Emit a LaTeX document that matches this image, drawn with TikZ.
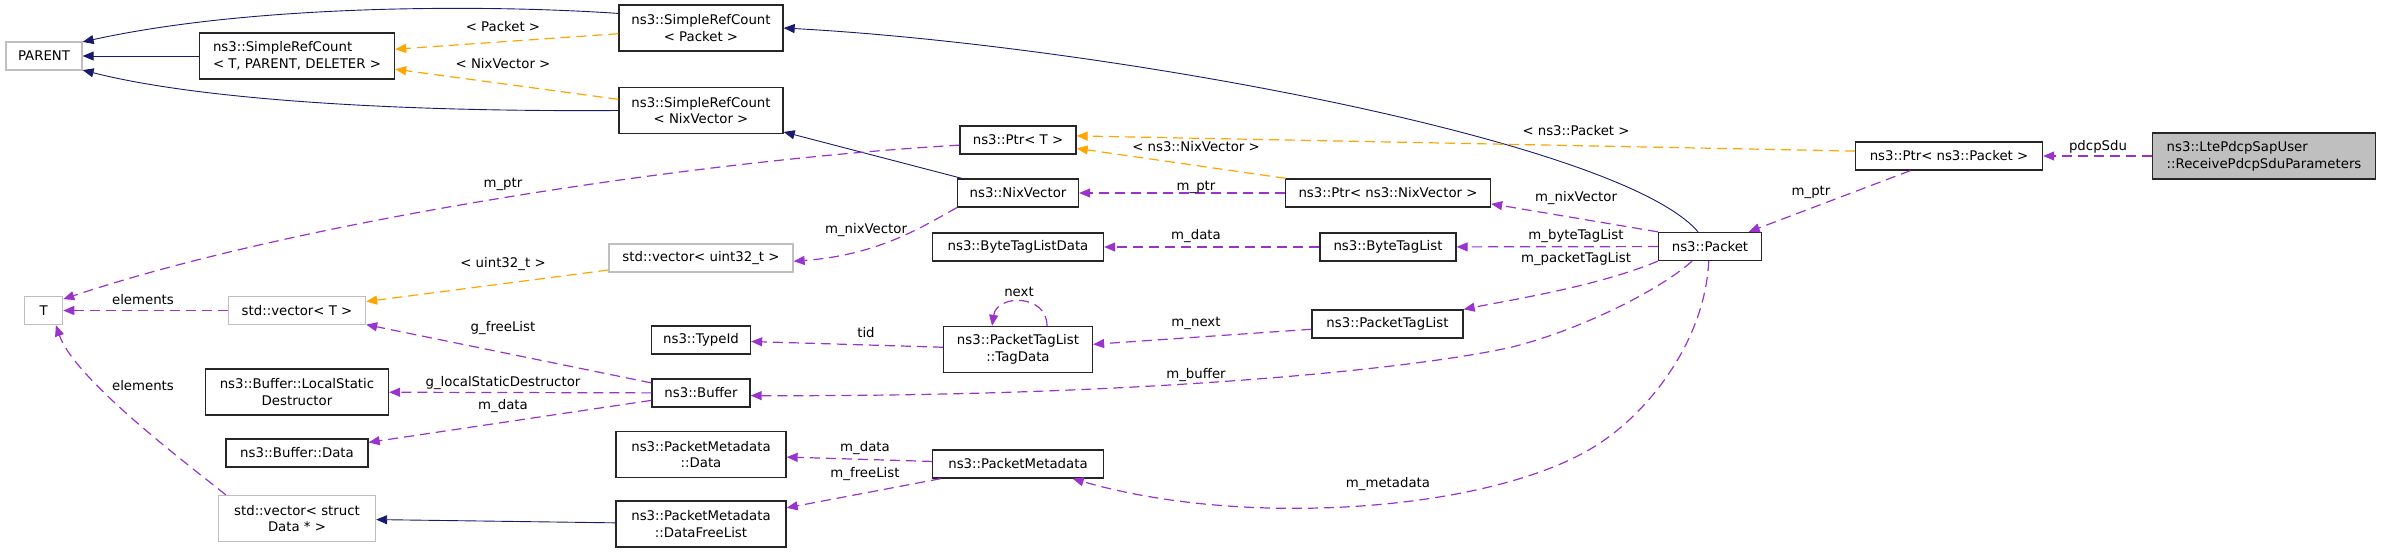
\documentclass[tikz,border=0pt]{standalone}
\usepackage{fontspec}
\setmainfont{DejaVu Sans}
\usetikzlibrary{arrows.meta}

\definecolor{navy}{HTML}{191970}
\definecolor{tmplorange}{HTML}{FFA500}
\definecolor{orchid}{HTML}{9A32CD}
\definecolor{extgray}{HTML}{BFBFBF}

\begin{document}
\begin{tikzpicture}
  [x=1pt,y=-1pt,
   every node/.style={font=\fontsize{13.3pt}{16.7pt}\selectfont},
   box/.style={draw=black!85,line width=1.3pt,minimum height=28pt,inner sep=2pt,align=center},
   ext/.style={box,draw=extgray},
   inherit/.style={draw=navy,line width=0.9pt,-{Triangle[length=11pt,width=9pt]}},
   tmpl/.style={draw=tmplorange,line width=1.2pt,dash pattern=on 10pt off 6pt,-{Triangle[length=11pt,width=9pt]}},
   member/.style={draw=orchid,line width=1.2pt,dash pattern=on 10pt off 6pt,-{Triangle[length=11pt,width=9pt]}}]
  \useasboundingbox (0,0) rectangle (2381,552);

  % classes
  \node[ext,minimum width=76pt] (parent) at (44,56) {PARENT};
  \node[box,minimum width=195pt,minimum height=46pt,align=left] (srcT) at (297,56) {ns3::SimpleRefCount\\< T, PARENT, DELETER >};
  \node[box,minimum width=164pt,minimum height=46pt] (srcPacket) at (701,28) {ns3::SimpleRefCount\\< Packet >};
  \node[box,minimum width=164pt,minimum height=46pt] (srcNix) at (701,110.5) {ns3::SimpleRefCount\\< NixVector >};
  \node[ext,minimum width=184pt] (vecUint) at (701,258) {std::vector< uint32\_t >};
  \node[ext,minimum width=38pt] (tT) at (43.6,310.5) {T};
  \node[ext,minimum width=137pt] (vecT) at (297,310.5) {std::vector< T >};
  \node[box,minimum width=99pt] (typeId) at (701,340) {ns3::TypeId};
  \node[box,minimum width=183pt,minimum height=46pt] (lsd) at (297,392) {ns3::Buffer::LocalStatic\\Destructor};
  \node[box,minimum width=98pt] (buffer) at (701,393) {ns3::Buffer};
  \node[box,minimum width=142pt] (bufData) at (297,453) {ns3::Buffer::Data};
  \node[box,minimum width=170pt,minimum height=46pt] (pmData) at (701,454.5) {ns3::PacketMetadata\\::Data};
  \node[ext,minimum width=157pt,minimum height=46pt] (vecData) at (297,518.5) {std::vector< struct\\Data * >};
  \node[box,minimum width=170pt,minimum height=46pt] (freeList) at (701,524) {ns3::PacketMetadata\\::DataFreeList};
  \node[box,minimum width=116pt] (ptrT) at (1018,140) {ns3::Ptr< T >};
  \node[box,minimum width=121pt] (nixVector) at (1018,193) {ns3::NixVector};
  \node[box,minimum width=171pt] (byteData) at (1018,247) {ns3::ByteTagListData};
  \node[box,minimum width=149pt,minimum height=46pt] (tagData) at (1018,349.5) {ns3::PacketTagList\\::TagData};
  \node[box,minimum width=171pt] (pMeta) at (1018,464) {ns3::PacketMetadata};
  \node[box,minimum width=205pt] (ptrNix) at (1388,193) {ns3::Ptr< ns3::NixVector >};
  \node[box,minimum width=136pt] (byteTag) at (1388,247) {ns3::ByteTagList};
  \node[box,minimum width=151pt] (pTagList) at (1387.5,324) {ns3::PacketTagList};
  \node[box,minimum width=103pt] (packet) at (1710,246.5) {ns3::Packet};
  \node[box,minimum width=187pt] (ptrPacket) at (1949,156) {ns3::Ptr< ns3::Packet >};
  \node[box,fill=extgray,minimum width=223pt,minimum height=46pt,align=left] (pdcp) at (2264,156) {ns3::LtePdcpSapUser\\::ReceivePdcpSduParameters};

  % inheritance
  \foreach \from/\to in {srcT/parent,nixVector/srcNix,freeList/vecData}
    \draw[inherit] (\from) -- (\to);
  \draw[inherit] (srcPacket.170) .. controls (480,4) and (250,5) .. (parent.20);
  \draw[inherit] (srcNix.west) .. controls (400,112) and (200,100) .. (parent.-20);
  \draw[inherit] ([xshift=-12pt]packet.north) .. controls (1620,140) and (1100,45) .. (srcPacket.east);

  % template instances
  \foreach \from/\to in {srcPacket/srcT,srcNix/srcT,vecUint/vecT,ptrNix/ptrT}
    \draw[tmpl] (\from) -- (\to);
  \draw[tmpl] (ptrPacket.177) -- (ptrT.4);

  % members
  \foreach \from/\to in {vecT/tT,ptrNix/nixVector,byteTag/byteData,packet/byteTag,pTagList/tagData,tagData/typeId,buffer/vecT,buffer/lsd,buffer/bufData,pMeta/pmData,pMeta/freeList,ptrPacket/packet,pdcp/ptrPacket}
    \draw[member] (\from) -- (\to);
  \draw[member] (ptrT.185) .. controls (700,160) and (300,220) .. (tT.30);
  \draw[member] ([xshift=8pt]vecData.north west) .. controls (190,466) and (75,380) .. (tT.-50);
  \draw[member] (nixVector.south west) .. controls (925,225) and (880,255) .. (vecUint.-2.5);
  \draw[member] (packet.north west) -- (ptrNix.-6);
  \draw[member] (packet.south west) .. controls +(-60,25) and +(50,-10) .. (pTagList.north east);
  \draw[member] ([xshift=-18pt]packet.south) .. controls (1660,290) and (1580,330) .. (1512,347)
    .. controls (1420,368) and (1150,397) .. (buffer.-3);
  \draw[member] (packet.-95) .. controls (1705,340) and (1650,410) .. (1600,443)
    .. controls (1500,510) and (1250,530) .. (pMeta.-15);
  \draw[member] ([xshift=29pt]tagData.north) .. controls +(0,-32) and +(5,-32) .. ([xshift=-26pt]tagData.north);

  % edge labels
  \node (lPacket) at (503,27) {< Packet >};
  \node (lNix) at (503,64) {< NixVector >};
  \node (lPtr) at (503,184) {m\_ptr};
  \node (lUint) at (503,264) {< uint32\_t >};
  \node (lElemA) at (143,300) {elements};
  \node (lElemB) at (143,386) {elements};
  \node (lFree) at (503,328) {g\_freeList};
  \node (lLsd) at (503,383) {g\_localStaticDestructor};
  \node (lBufData) at (503,406) {m\_data};
  \node (lNsNix) at (1196,147) {< ns3::NixVector >};
  \node (lNixPtr) at (1196,187) {m\_ptr};
  \node (lNixVec) at (866,230) {m\_nixVector};
  \node (lByteData) at (1196,236) {m\_data};
  \node (lNext) at (1019,292) {next};
  \node (lTid) at (866,333) {tid};
  \node (lMNext) at (1196,323) {m\_next};
  \node (lBuffer) at (1196,375) {m\_buffer};
  \node (lPmData) at (865,448) {m\_data};
  \node (lFreeList) at (865,474) {m\_freeList};
  \node (lMeta) at (1388,484) {m\_metadata};
  \node (lSdu) at (2098,147) {pdcpSdu};
  \node (lPktPtr) at (1811,192) {m\_ptr};
  \node (lNsPacket) at (1576,131) {< ns3::Packet >};
  \node (lPktNix) at (1576,198) {m\_nixVector};
  \node (lByteTag) at (1576,236) {m\_byteTagList};
  \node (lPktTag) at (1576,259) {m\_packetTagList};
\end{tikzpicture}
\end{document}
